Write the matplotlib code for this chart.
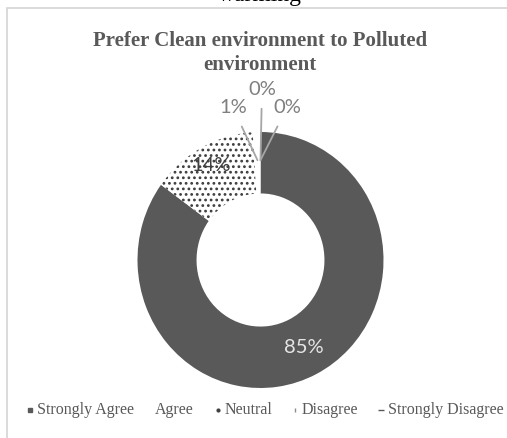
import matplotlib
matplotlib.use('Agg')
import matplotlib.pyplot as plt
import numpy as np
from matplotlib.patches import Rectangle
from matplotlib.lines import Line2D

# survey answers
categories = ['Strongly Agree', 'Agree', 'Neutral', 'Disagree', 'Strongly Disagree']
shares = [85, 14, 1, 0, 0]
title = 'Prefer Clean environment to Polluted\nenvironment'

plt.rcParams['hatch.linewidth'] = 1.2

W, H = 507, 438
fig = plt.figure(figsize=(W / 100, H / 100), dpi=100)
fig.patch.set_facecolor('white')

def fx(px):
    return px / W

def fy(py):
    return 1 - py / H

# chart border (runs off the right and bottom of the page)
fig.add_artist(Rectangle((fx(7), -0.1), 1.2, fy(8) + 0.1, transform=fig.transFigure,
                         fill=False, edgecolor='#d4d4d4', lw=1.2))

# cut-off word from the page above
fig.text(fx(260), fy(0.5), 'warming', family='Liberation Serif', fontsize=17,
         color='black', ha='center', va='baseline')

fig.text(fx(260), fy(53), title, family='Liberation Serif', fontweight='bold',
         fontsize=15, color='#595959', ha='center', va='center', linespacing=1.22)

# doughnut axes, slightly stretched vertically
cx, cy, rx, ry = 260.5, 260, 123, 128
lim = 1.5
aw, ah = 2 * lim * rx / W, 2 * lim * ry / H
ax = fig.add_axes([fx(cx) - aw / 2, fy(cy) - ah / 2, aw, ah])

colors = ['#595959', 'white', 'white', 'white', 'white']
wedges, _ = ax.pie(shares, colors=colors, startangle=90, counterclock=False,
                   radius=1, wedgeprops=dict(width=0.48, linewidth=0))
wedges[1].set_hatch('...')
wedges[1].set_edgecolor('#3c3c3c')
wedges[1].set_linewidth(0)
ax.set_aspect('auto')
ax.set_xlim(-lim, lim)
ax.set_ylim(-lim, lim)
ax.axis('off')

def mid(w, r):
    a = np.deg2rad((w.theta1 + w.theta2) / 2)
    return r * np.cos(a), r * np.sin(a)

# labels inside the ring
ax.text(*mid(wedges[0], 0.77), f'{shares[0]}%', family='Lato', fontsize=14.5,
        color='#e6e6e6', ha='center', va='center')
ax.text(*mid(wedges[1], 0.84), f'{shares[1]}%', family='Lato', fontsize=14.5,
        color='#404040', ha='center', va='center')

# small slices get leader lines
label_pos = [(-0.224, 1.19), (0.012, 1.335), (0.215, 1.19)]
for w, v, pos in zip(wedges[2:], shares[2:], label_pos):
    ax.annotate(f'{v}%', xy=mid(w, 0.78), xytext=pos, family='Lato', fontsize=14.5,
                color='#7f7f7f', ha='center', va='center',
                arrowprops=dict(arrowstyle='-', color='#a6a6a6', lw=1.3,
                                shrinkA=6, shrinkB=0))

# legend row
leg_x = [30, 148, 218, 295, 381]
leg_marker = [('s', 3.5, '#595959'), ('s', 0, 'white'), ('o', 2, '#404040'),
              ('|', 3, '#8c8c8c'), ('_', 4, '#595959')]
leg_y = 410
for x, (m, ms, c), name in zip(leg_x, leg_marker, categories):
    if ms > 0:
        fig.add_artist(Line2D([fx(x)], [fy(leg_y)], marker=m, markersize=ms, color=c,
                              markeredgecolor=c, lw=0, transform=fig.transFigure))
    fig.text(fx(x + 7), fy(leg_y), name, family='Liberation Serif', fontsize=11.5,
             color='#595959', ha='left', va='center')

fig.savefig('out.png', dpi=100, facecolor='white')
